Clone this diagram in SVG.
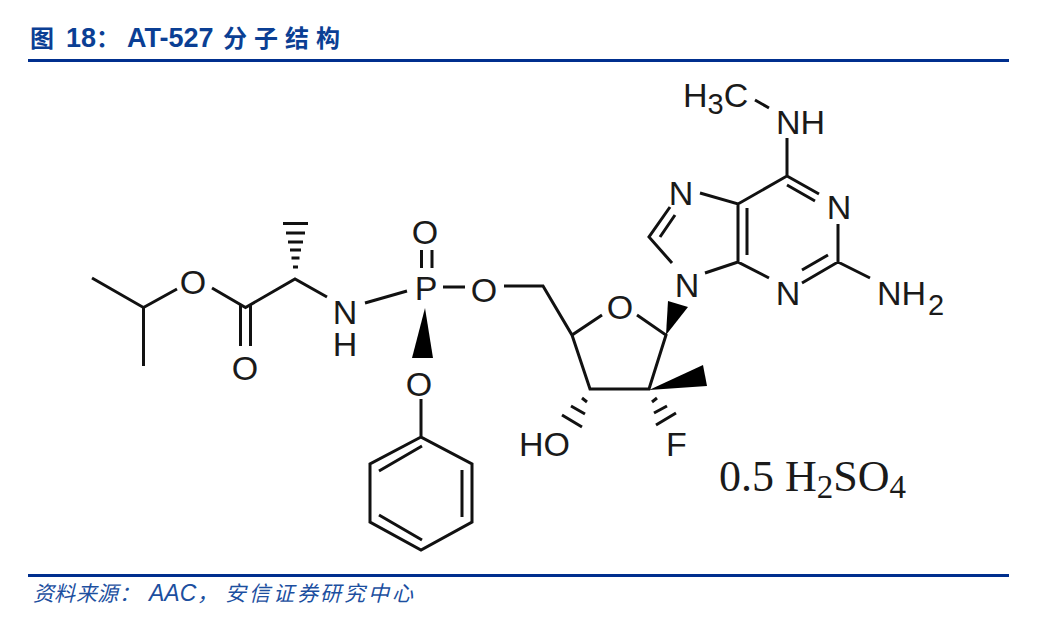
<svg xmlns="http://www.w3.org/2000/svg" width="1047" height="625" viewBox="0 0 1047 625">
<style>
.b{stroke:#111;stroke-width:3;fill:none;stroke-linecap:butt;stroke-linejoin:miter}
.a{font-family:"Liberation Sans",Arial,sans-serif;font-size:34px;fill:#1a1a1a}
.s{font-size:29px}
.r{font-family:"Liberation Serif","Times New Roman",serif;font-size:44px;fill:#1a1a1a}
.rs{font-size:33px}
.w{fill:#000}
.t{fill:#0b3f94;font-family:"Noto Sans CJK SC",sans-serif;font-size:24px;font-weight:700}
.tl{fill:#0b3f94;font-family:"Liberation Sans",Arial,sans-serif;font-size:27px;font-weight:700}
.f{fill:#1c4f9f;font-family:"Noto Sans CJK SC",sans-serif;font-size:21px;font-style:italic}
.fl{fill:#1c4f9f;font-family:"Liberation Sans",Arial,sans-serif;font-size:23px;font-style:italic}
.m{fill:#002f8e}
</style>
<rect width="1047" height="625" fill="#fff"/>
<g id="header">
<text class="t" x="30" y="47">图</text>
<text class="tl" x="66" y="47">18</text>
<text class="t" x="96" y="47">：</text>
<text class="tl" x="127" y="47">AT-527</text>
<text class="t" x="223 254 285 316" y="47">分子结构</text>
<rect class="m" x="28" y="59" width="981" height="3"/>
</g>
<g id="connectors">
<path class="b" d="M92 278L143.500 307.500V366M143.500 307.500L177 289M212 288L245.500 307.500L295 279L327 297M365 303L407 291M443 287H465M504 286H543L572 335L602 315M637 315L666 335L649 389H590L572 335"/>
<path class="b" d="M240.500 304V346M250.500 304V346M421.500 250V268M432 250V268"/>
<path class="b" d="M421 399V437L472 464V522L421 550L370 522V464L421 437M422 446L379 471M462 470V517M379 515L422 540"/>
<path class="b" d="M700 193L738 204L787 176V138M787 176L819 194M787 185L815 201M838 224V262L802 283M828 255L802 270M838 262L870 278M769 278L738 262V204M747 208V255M738 262L705 273M672 263L649 237L670 207M660 237L675 215M755 100L769 108"/>
<g stroke="#111" stroke-width="3" fill="none">
<path d="M283 223.500H308M286 233H305M288 242H303M290 250H301M291.500 258H299.500M293 267H298"/>
<path d="M582 398L587 402M571 406L585 414M562 415L582 427"/>
<path d="M652 402L657 398M654 413L667 406M656 425L676 413"/>
</g>
<path class="w" d="M425 308L412 358H433Z"/>
<path class="w" d="M666 335L668 301L688 307Z"/>
<path class="w" d="M649 390L703 365L707 386Z"/>
</g>
<g id="n-o1"><text class="a" x="193" y="294" text-anchor="middle">O</text></g>
<g id="n-o2"><text class="a" x="245" y="380" text-anchor="middle">O</text></g>
<g id="n-nh"><text class="a" text-anchor="middle"><tspan x="345" y="324">N</tspan><tspan x="345" y="356">H</tspan></text></g>
<g id="n-o3"><text class="a" x="425" y="244" text-anchor="middle">O</text></g>
<g id="n-p"><text class="a" x="426" y="300" text-anchor="middle">P</text></g>
<g id="n-o4"><text class="a" x="484" y="302" text-anchor="middle">O</text></g>
<g id="n-o5"><text class="a" x="419" y="396" text-anchor="middle">O</text></g>
<g id="n-o6"><text class="a" x="620" y="319" text-anchor="middle">O</text></g>
<g id="n-n9"><text class="a" x="687" y="297" text-anchor="middle">N</text></g>
<g id="n-n7"><text class="a" x="681" y="205" text-anchor="middle">N</text></g>
<g id="n-n1"><text class="a" x="839" y="219" text-anchor="middle">N</text></g>
<g id="n-n3"><text class="a" x="788" y="305" text-anchor="middle">N</text></g>
<g id="n-nh2"><text class="a" x="877" y="305">NH<tspan class="s" dx="2" dy="10">2</tspan></text></g>
<g id="n-nhme"><text class="a" x="776" y="134">NH</text></g>
<g id="n-h3c"><text class="a" x="683" y="107">H<tspan class="s" dy="7">3</tspan><tspan dy="-7">C</tspan></text></g>
<g id="n-ho"><text class="a" x="519" y="456">HO</text></g>
<g id="n-f"><text class="a" x="666" y="456">F</text></g>
<g id="salt"><text class="r" x="719" y="491">0.5 H<tspan class="rs" dy="7">2</tspan><tspan dy="-7">SO</tspan><tspan class="rs" dy="7">4</tspan></text></g>
<g id="footer">
<rect class="m" x="28" y="574" width="981" height="3"/>
<text class="f" x="33 54 76 97 119" y="601">资料来源：</text>
<text class="fl" x="149" y="601">AAC</text>
<text class="f" x="197" y="601">，</text>
<text class="f" x="225 249 273 297 320 344 368 392" y="601">安信证券研究中心</text>
</g>
</svg>
